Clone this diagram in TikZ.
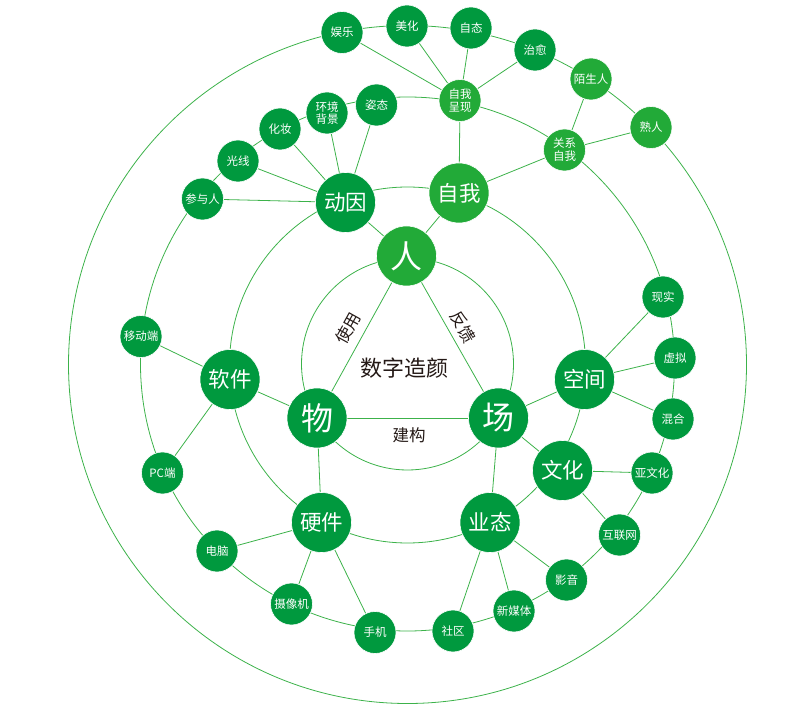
\documentclass[tikz,border=0pt]{standalone}
\usepackage{fontspec}
\setmainfont{Noto Sans CJK SC}
\usetikzlibrary{backgrounds}
\definecolor{dg}{RGB}{0,153,62}
\definecolor{lg}{RGB}{34,170,56}
\definecolor{ln}{RGB}{60,178,74}
\definecolor{tx}{RGB}{35,24,21}
\begin{document}
\begin{tikzpicture}[x=1pt,y=-1pt,
  base/.style={circle,fill=dg,draw=white,line width=0.6pt,inner sep=0pt,text=white,align=center},
  big/.style={base,minimum size=60pt,font=\fontsize{32}{32}\selectfont},
  mid/.style={base,minimum size=60pt,font=\fontsize{21.5}{22}\selectfont},
  sm/.style={base,minimum size=42pt,font=\fontsize{11.5}{12.7}\selectfont},
  light/.style={fill=lg},
  conn/.style={draw=ln,line width=0.8pt},
  lbl/.style={text=tx,inner sep=0pt}]
\useasboundingbox (0,0) rectangle (812,727);
\coordinate (O) at (407.5,364);
% core
\node[big,light] (ren) at (406.5,256) {人};
\node[big] (wu) at (317,418) {物};
\node[big] (chang) at (498.5,418) {场};
% level 2
\node[mid] (dongyin) at (345.5,202.5) {动因};
\node[mid,light] (ziwo) at (459,193) {自我};
\node[mid] (ruanjian) at (230,379.5) {软件};
\node[mid] (yingjian) at (321.5,522.5) {硬件};
\node[mid] (yetai) at (490,522.5) {业态};
\node[mid] (kongjian) at (584.5,379.5) {空间};
\node[mid] (wenhua) at (562.5,470.5) {文化};
% level 3
\node[sm] (canyuren) at (202.5,199) {参与人};
\node[sm] (guangxian) at (238,161) {光线};
\node[sm] (huazhuang) at (280,129) {化妆};
\node[sm] (huanjing) at (327,113) {环境\\背景};
\node[sm] (zitai) at (376.5,105) {姿态};
\node[sm,light] (chengxian) at (460,100.5) {自我\\呈现};
\node[sm,light] (guanxi) at (564.5,150) {关系\\自我};
\node[sm] (xianshi) at (663,297) {现实};
\node[sm] (xuni) at (675,358) {虚拟};
\node[sm] (hunhe) at (673,419) {混合};
\node[sm] (yawenhua) at (652,473) {亚文化};
\node[sm] (hulianwang) at (619.5,535) {互联网};
\node[sm] (yingyin) at (566.5,580) {影音};
\node[sm] (xinmeiti) at (514,611) {新媒体};
\node[sm] (shequ) at (453,631) {社区};
\node[sm] (shouji) at (375,632.5) {手机};
\node[sm] (shexiangji) at (291.5,604) {摄像机};
\node[sm] (diannao) at (217,551) {电脑};
\node[sm] (pc) at (162.5,473) {PC端};
\node[sm] (yidong) at (141,336.5) {移动端};
% level 4
\node[sm] (yule) at (342,32.5) {娱乐};
\node[sm] (meihua) at (407,26) {美化};
\node[sm] (zitai2) at (471,28) {自态};
\node[sm] (zhiyu) at (535,50) {治愈};
\node[sm,light] (moshengren) at (591,79) {陌生人};
\node[sm,light] (shuren) at (651,127.5) {熟人};
% labels
\node[lbl,font=\fontsize{22}{22}\selectfont] (title) at (404,368) {数字造颜};
\node[lbl,font=\fontsize{16.5}{17}\selectfont] (jiangou) at (409,435) {建构};
\node[lbl,font=\fontsize{16.5}{17}\selectfont,rotate=61] (shiyong) at (348,328) {使用};
\node[lbl,font=\fontsize{16.5}{17}\selectfont,rotate=-60] (fankui) at (463,327) {反馈};
\begin{scope}[on background layer]
  \draw[conn] (O) circle[radius=106pt];
  \draw[conn] (407.5,365) circle[radius=178pt];
  \draw[conn] (O) circle[radius=267pt];
  \draw[conn] (407.5,364.5) circle[radius=339pt];
  \draw[conn] (ren) -- (wu);
  \draw[conn] (ren) -- (chang);
  \draw[conn] (wu) -- (chang);
  \draw[conn] (ren) -- (dongyin);
  \draw[conn] (ren) -- (ziwo);
  \draw[conn] (wu) -- (ruanjian);
  \draw[conn] (wu) -- (yingjian);
  \draw[conn] (chang) -- (kongjian);
  \draw[conn] (chang) -- (wenhua);
  \draw[conn] (chang) -- (yetai);
  \foreach \t in {canyuren,guangxian,huazhuang,huanjing,zitai} \draw[conn] (dongyin) -- (\t);
  \draw[conn] (ziwo) -- (chengxian);
  \draw[conn] (ziwo) -- (guanxi);
  \foreach \t in {yule,meihua,zitai2,zhiyu} \draw[conn] (chengxian) -- (\t);
  \draw[conn] (guanxi) -- (moshengren);
  \draw[conn] (guanxi) -- (shuren);
  \foreach \t in {xianshi,xuni,hunhe} \draw[conn] (kongjian) -- (\t);
  \draw[conn] (wenhua) -- (yawenhua);
  \draw[conn] (wenhua) -- (hulianwang);
  \foreach \t in {yingyin,xinmeiti,shequ} \draw[conn] (yetai) -- (\t);
  \foreach \t in {shouji,shexiangji,diannao} \draw[conn] (yingjian) -- (\t);
  \draw[conn] (ruanjian) -- (pc);
  \draw[conn] (ruanjian) -- (yidong);
\end{scope}
\end{tikzpicture}
\end{document}
